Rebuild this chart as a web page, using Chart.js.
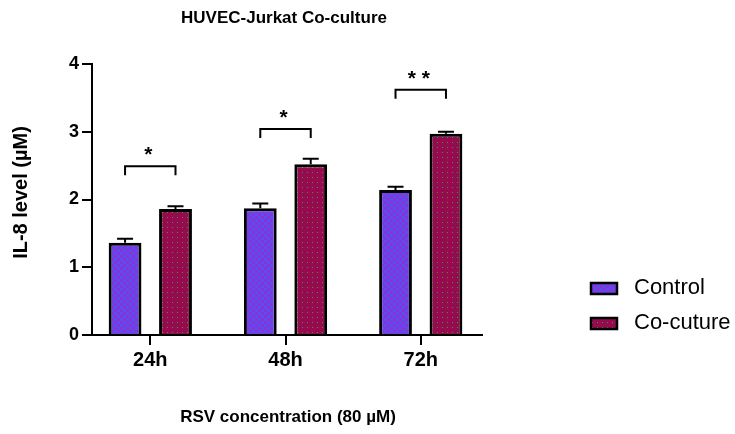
<!DOCTYPE html>
<html><head><meta charset="utf-8">
<script src="https://cdn.jsdelivr.net/npm/chart.js@4"></script>
<style>html,body{margin:0;padding:0;background:#fff}#wrap{width:735px;height:434px;position:relative}</style>
</head><body><div id="wrap"><canvas id="c" width="735" height="434"></canvas></div>
<script>
const categories = ['24h', '48h', '72h'];
const seriesNames = ['Control', 'Co-cuture'];
const controlMeans = [1.36, 1.87, 2.14];
const controlErrors = [0.06, 0.07, 0.05];
const cocultureMeans = [1.86, 2.52, 2.97];
const cocultureErrors = [0.04, 0.08, 0.03];
const bracketLevels = [2.49, 3.04, 3.62];
const significance = ['*', '*', '* *'];
const yTickValues = [0, 1, 2, 3, 4];
const titleText = 'HUVEC-Jurkat Co-culture';
const xTitleText = 'RSV concentration (80 µM)';
const yTitleText = 'IL-8 level (µM)';

const FONT = '"Liberation Sans", Arial, sans-serif';
const canvas = document.getElementById('c');
const mainCtx = canvas.getContext('2d');

function makeChecker() {
  const t = document.createElement('canvas'); t.width = 6; t.height = 6;
  const g = t.getContext('2d');
  g.fillStyle = '#8a32d6'; g.fillRect(0, 0, 6, 6);
  g.fillStyle = '#5650f2'; g.fillRect(0, 0, 3, 3); g.fillRect(3, 3, 3, 3);
  return mainCtx.createPattern(t, 'repeat');
}
function makeDots() {
  const t = document.createElement('canvas'); t.width = 5; t.height = 5;
  const g = t.getContext('2d');
  g.fillStyle = '#970a50'; g.fillRect(0, 0, 5, 5);
  g.fillStyle = '#2fa02f'; g.fillRect(2, 2, 1, 1);
  return mainCtx.createPattern(t, 'repeat');
}
const checker = makeChecker();
const dots = makeDots();

const decor = {
  id: 'decor',
  afterDatasetsDraw(chart) {
    const ctx = chart.ctx, ys = chart.scales.y;
    const groups = [[controlMeans, controlErrors], [cocultureMeans, cocultureErrors]];
    ctx.save();
    ctx.strokeStyle = '#000'; ctx.lineWidth = 2; ctx.lineCap = 'butt'; ctx.lineJoin = 'miter';
    groups.forEach((g, di) => {
      const meta = chart.getDatasetMeta(di);
      meta.data.forEach((bar, i) => {
        const top = ys.getPixelForValue(g[0][i]);
        const cap = ys.getPixelForValue(g[0][i] + g[1][i]);
        ctx.beginPath();
        ctx.moveTo(bar.x, top); ctx.lineTo(bar.x, cap);
        ctx.moveTo(bar.x - 8, cap); ctx.lineTo(bar.x + 8, cap);
        ctx.stroke();
      });
    });
    const m0 = chart.getDatasetMeta(0), m1 = chart.getDatasetMeta(1);
    bracketLevels.forEach((lv, i) => {
      const x0 = m0.data[i].x, x1 = m1.data[i].x, yy = ys.getPixelForValue(lv);
      ctx.beginPath();
      ctx.moveTo(x0, yy + 9); ctx.lineTo(x0, yy); ctx.lineTo(x1, yy); ctx.lineTo(x1, yy + 9);
      ctx.stroke();
      ctx.fillStyle = '#000';
      ctx.font = 'bold 21px ' + FONT;
      ctx.textAlign = 'center'; ctx.textBaseline = 'alphabetic';
      ctx.fillText(significance[i], (x0 + x1) / 2 - 2, yy - 5);
    });
    ctx.restore();
  },
  afterDraw(chart) {
    const ctx = chart.ctx, a = chart.chartArea;
    ctx.save();
    ctx.fillStyle = '#000';
    ctx.textAlign = 'center'; ctx.textBaseline = 'middle';
    ctx.font = 'bold 17px ' + FONT;
    ctx.fillText(titleText, (a.left + a.right) / 2 - 3, 18);
    ctx.fillText(xTitleText, (a.left + a.right) / 2 + 1, 417);
    ctx.save();
    ctx.font = 'bold 20px ' + FONT;
    ctx.translate(21, (a.top + a.bottom) / 2 - 7);
    ctx.rotate(-Math.PI / 2);
    ctx.fillText(yTitleText, 0, 0);
    ctx.restore();
    // legend
    const fills = [checker, dots];
    const rows = [288, 323];
    ctx.font = '22px ' + FONT;
    ctx.textAlign = 'left';
    seriesNames.forEach((n, i) => {
      ctx.fillStyle = fills[i];
      ctx.fillRect(591, rows[i] - 5, 26, 11);
      ctx.strokeStyle = '#000'; ctx.lineWidth = 2.5;
      ctx.strokeRect(591, rows[i] - 5, 26, 11);
      ctx.fillStyle = '#000';
      ctx.fillText(n, 634, rows[i]);
    });
    ctx.restore();
  }
};

new Chart(canvas, {
  type: 'bar',
  data: {
    datasets: [
      { label: seriesNames[0], data: controlMeans.map((v, i) => ({ x: i, y: v })), backgroundColor: checker, borderColor: '#000', borderWidth: 3, borderSkipped: 'start' },
      { label: seriesNames[1], data: cocultureMeans.map((v, i) => ({ x: i, y: v })), backgroundColor: dots, borderColor: '#000', borderWidth: 3, borderSkipped: 'start' }
    ]
  },
  options: {
    responsive: false,
    animation: false,
    devicePixelRatio: 1,
    categoryPercentage: 0.746,
    barPercentage: 0.65,
    layout: { padding: { top: 64, right: 253, bottom: 0, left: 0 } },
    plugins: { legend: { display: false }, tooltip: { enabled: false }, title: { display: false } },
    scales: {
      x: {
        type: 'linear', offset: false,
        min: -0.431, max: 2.453,
        afterBuildTicks: s => { s.ticks = categories.map((c, i) => ({ value: i })); },
        afterFit: s => { s.height = 99; },
        ticks: { callback: v => categories[v], color: '#000', font: { family: FONT, size: 20, weight: 'bold' }, padding: 3, maxRotation: 0 },
        grid: { offset: false, drawOnChartArea: false, drawTicks: true, tickLength: 10, color: '#000', lineWidth: 2 },
        border: { display: true, color: '#000', width: 2 }
      },
      y: {
        min: 0, max: 4,
        afterBuildTicks: s => { s.ticks = yTickValues.map(v => ({ value: v })); },
        afterFit: s => { s.width = 92; },
        ticks: { color: '#000', font: { family: FONT, size: 18, weight: 'bold' }, padding: 3 },
        grid: { drawOnChartArea: false, drawTicks: true, tickLength: 10, color: '#000', lineWidth: 2 },
        border: { display: true, color: '#000', width: 2 }
      }
    }
  },
  plugins: [decor]
});
</script></body></html>
